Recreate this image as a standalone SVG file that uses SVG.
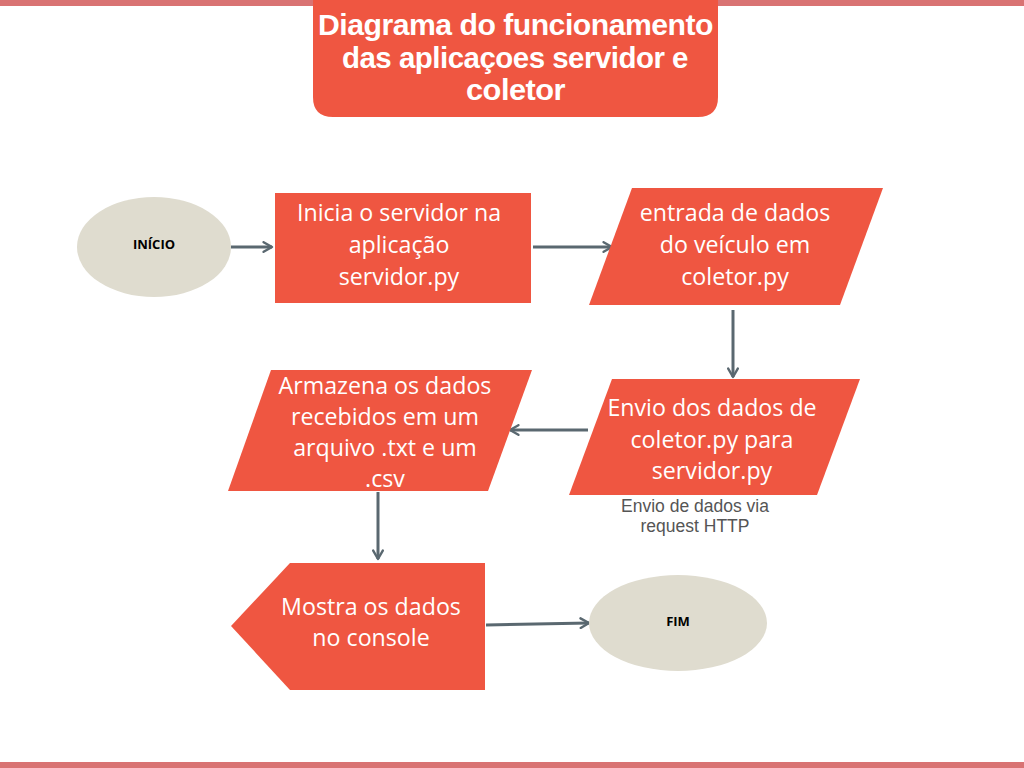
<svg xmlns="http://www.w3.org/2000/svg" width="1024" height="768" viewBox="0 0 1024 768">
<defs>
<style>
.shape{fill:#EF5641}
.term{fill:#DFDCCF}
.t{font-family:"Open Sans","DejaVu Sans",sans-serif;font-size:23.2px;fill:#FFFFFF;text-anchor:middle}
.tt{font-family:"Liberation Sans",Arial,sans-serif;font-weight:bold;font-size:30px;fill:#FFFFFF;text-anchor:middle;letter-spacing:-0.5px}
.tb{font-family:"Open Sans","DejaVu Sans",sans-serif;font-weight:bold;font-size:13px;fill:#000;text-anchor:middle}
.cap{font-family:"Liberation Sans",Arial,sans-serif;font-size:17.5px;fill:#555;text-anchor:middle}
.c{stroke:#5A6870;stroke-width:3;fill:none;marker-end:url(#ah)}
</style>
<marker id="ah" viewBox="0 0 10 10" refX="8" refY="5" markerWidth="4" markerHeight="4" orient="auto" markerUnits="strokeWidth">
<path d="M1,1 L8,5 L1,9" fill="none" stroke="#5A6870" stroke-width="2" stroke-linecap="round" stroke-linejoin="round"/>
</marker>
</defs>
<rect width="1024" height="768" fill="#FFFFFF"/>
<rect x="0" y="0" width="1024" height="6" fill="#D97373"/>
<rect x="0" y="762" width="1024" height="6" fill="#D97373"/>
<g id="title">
<path d="M313,0 H718 V97 Q718,117 698,117 H333 Q313,117 313,97 Z" class="shape"/>
<text class="tt" x="515.5" y="35" textLength="395" lengthAdjust="spacingAndGlyphs">Diagrama do funcionamento</text>
<text class="tt" x="515" y="68" textLength="346" lengthAdjust="spacingAndGlyphs">das aplicaçoes servidor e</text>
<text class="tt" x="515.5" y="100" textLength="99" lengthAdjust="spacingAndGlyphs">coletor</text>
</g>
<g id="connectors">
<path class="c" d="M231,247 H272"/>
<path class="c" d="M533,247 H612"/>
<path class="c" d="M733,310 V377"/>
<path class="c" d="M588,430 H510"/>
<path class="c" d="M378,492 V559"/>
<path class="c" d="M486,625 L589,623"/>
</g>
<g id="inicio">
<ellipse class="term" cx="154" cy="247" rx="77" ry="50"/>
<text class="tb" x="154" y="249">INÍCIO</text>
</g>
<g id="inicia-servidor">
<rect class="shape" x="275" y="193" width="256" height="110"/>
<text class="t" x="399" y="221">Inicia o servidor na</text>
<text class="t" x="399" y="253">aplicação</text>
<text class="t" x="399" y="285">servidor.py</text>
</g>
<g id="entrada-dados">
<polygon class="shape" points="632,188 883,188 840,305 589,305"/>
<text class="t" x="735" y="221">entrada de dados</text>
<text class="t" x="735" y="253">do veículo em</text>
<text class="t" x="735" y="285">coletor.py</text>
</g>
<g id="envio-dados">
<polygon class="shape" points="612,379 860,379 817,495 569,495"/>
<text class="t" x="712" y="416">Envio dos dados de</text>
<text class="t" x="712" y="448">coletor.py para</text>
<text class="t" x="712" y="479">servidor.py</text>
<text class="cap" x="695" y="512">Envio de dados via</text>
<text class="cap" x="695" y="532">request HTTP</text>
</g>
<g id="armazena">
<polygon class="shape" points="271,370 532,370 488,491 228,491"/>
<text class="t" x="385" y="394">Armazena os dados</text>
<text class="t" x="385" y="425">recebidos em um</text>
<text class="t" x="385" y="456">arquivo .txt e um</text>
<text class="t" x="385" y="487">.csv</text>
</g>
<g id="mostra">
<polygon class="shape" points="290,563 485,563 485,690 290,690 231,626"/>
<text class="t" x="371" y="615">Mostra os dados</text>
<text class="t" x="371" y="646">no console</text>
</g>
<g id="fim">
<ellipse class="term" cx="678" cy="623" rx="89" ry="48"/>
<text class="tb" x="678" y="626">FIM</text>
</g>
</svg>
